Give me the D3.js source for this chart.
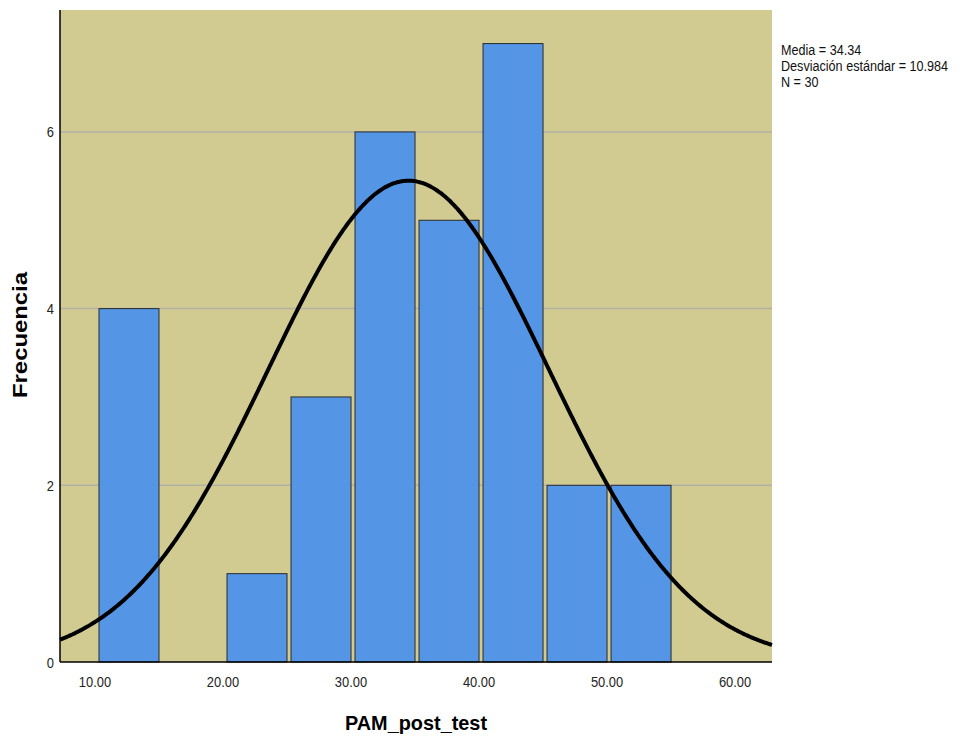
<!DOCTYPE html>
<html>
<head>
<meta charset="utf-8">
<script src="https://d3js.org/d3.v7.min.js"></script>
<title>PAM_post_test histogram</title>
<style>
body { margin: 0; background: #fff; }
svg { display: block; font-family: "Liberation Sans", Arial, sans-serif; }
</style>
</head>
<body>
<svg width="962" height="740"></svg>
<script>

// histogram bins (lower edge, upper edge) and counts
let binStart = [10, 20, 25, 30, 35, 40, 45, 50];
let binEnd   = [15, 25, 30, 35, 40, 45, 50, 55];
let counts   = [4, 1, 3, 6, 5, 7, 2, 2];

let xTicks = [10, 20, 30, 40, 50, 60];
let yTicks = [0, 2, 4, 6];

// summary stats shown in the legend
let mean = 34.34;
let sd = 10.984;
let n = 30;
let binWidth = 5;
let statLines = ["Media = 34.34", "Desviación estándar = 10.984", "N = 30"];

let plotLeft = 60, plotRight = 772, plotTop = 10, plotBottom = 662;

let svg = d3.select("svg");

let x = d3.scaleLinear().domain([7.11, 62.73]).range([plotLeft, plotRight]);
let y = d3.scaleLinear().domain([0, 7.38]).range([plotBottom, plotTop]);

// SPSS text looks horizontally squeezed, so narrow it a bit
function squeeze(sel, k) {
  sel.each(function() {
    let w = this.getComputedTextLength();
    d3.select(this).attr("textLength", w * k).attr("lengthAdjust", "spacingAndGlyphs");
  });
}

// plot background
svg.append("rect")
  .attr("x", plotLeft).attr("y", plotTop)
  .attr("width", plotRight - plotLeft).attr("height", plotBottom - plotTop)
  .attr("fill", "#d1cb91");

// grid lines
svg.selectAll("line.grid")
  .data(yTicks.filter(d => d > 0))
  .enter().append("line")
  .attr("class", "grid")
  .attr("x1", plotLeft).attr("x2", plotRight)
  .attr("y1", d => y(d)).attr("y2", d => y(d))
  .attr("stroke", "#b2b1a6")
  .attr("stroke-width", 1.5);

// bars
let bins = counts.map((c, i) => ({ a: binStart[i], b: binEnd[i], c: c }));
svg.selectAll("rect.bar")
  .data(bins)
  .enter().append("rect")
  .attr("class", "bar")
  .attr("x", d => x(d.a) + 2)
  .attr("width", d => x(d.b) - x(d.a) - 4)
  .attr("y", d => y(d.c))
  .attr("height", d => y(0) - y(d.c))
  .attr("fill", "#5495e5")
  .attr("stroke", "#2b2b2b")
  .attr("stroke-width", 1);

// normal curve from mean / sd
let dens = v => n * binWidth * Math.exp(-0.5 * Math.pow((v - mean) / sd, 2)) / (sd * Math.sqrt(2 * Math.PI));
let xs = d3.range(x.domain()[0], x.domain()[1], 0.1).concat([x.domain()[1]]);
svg.append("path")
  .datum(xs)
  .attr("d", d3.line().x(d => x(d)).y(d => y(dens(d))).curve(d3.curveBasis))
  .attr("fill", "none")
  .attr("stroke", "#000")
  .attr("stroke-width", 4);

// axes lines
svg.append("line")
  .attr("x1", plotLeft).attr("x2", plotLeft).attr("y1", plotTop).attr("y2", plotBottom)
  .attr("stroke", "#000").attr("stroke-width", 1.5);
svg.append("line")
  .attr("x1", plotLeft).attr("x2", plotRight).attr("y1", plotBottom).attr("y2", plotBottom)
  .attr("stroke", "#000").attr("stroke-width", 1.5);

// tick labels
svg.selectAll("text.xt")
  .data(xTicks)
  .enter().append("text")
  .attr("class", "xt")
  .attr("x", d => x(d) - 2)
  .attr("y", 687)
  .attr("text-anchor", "middle")
  .attr("font-size", "15px")
  .attr("fill", "#222")
  .text(d => d.toFixed(2))
  .call(squeeze, 0.86);

svg.selectAll("text.yt")
  .data(yTicks)
  .enter().append("text")
  .attr("class", "yt")
  .attr("x", 54)
  .attr("y", d => y(d) + 5.5)
  .attr("text-anchor", "end")
  .attr("font-size", "15px")
  .attr("fill", "#222")
  .text(d => d)
  .call(squeeze, 0.86);

// axis titles
svg.append("text")
  .attr("x", 416).attr("y", 730)
  .attr("text-anchor", "middle")
  .attr("font-size", "21px")
  .attr("font-weight", "bold")
  .attr("textLength", 142)
  .attr("lengthAdjust", "spacingAndGlyphs")
  .text("PAM_post_test");

svg.append("text")
  .attr("transform", "translate(27,335) rotate(-90)")
  .attr("text-anchor", "middle")
  .attr("font-size", "21px")
  .attr("font-weight", "bold")
  .attr("textLength", 126)
  .attr("lengthAdjust", "spacingAndGlyphs")
  .text("Frecuencia");

// stats legend
svg.selectAll("text.stat")
  .data(statLines)
  .enter().append("text")
  .attr("class", "stat")
  .attr("x", 781)
  .attr("y", (d, i) => 55 + i * 16)
  .attr("font-size", "14px")
  .attr("fill", "#111")
  .text(d => d)
  .call(squeeze, 0.9);

</script>
</body>
</html>
